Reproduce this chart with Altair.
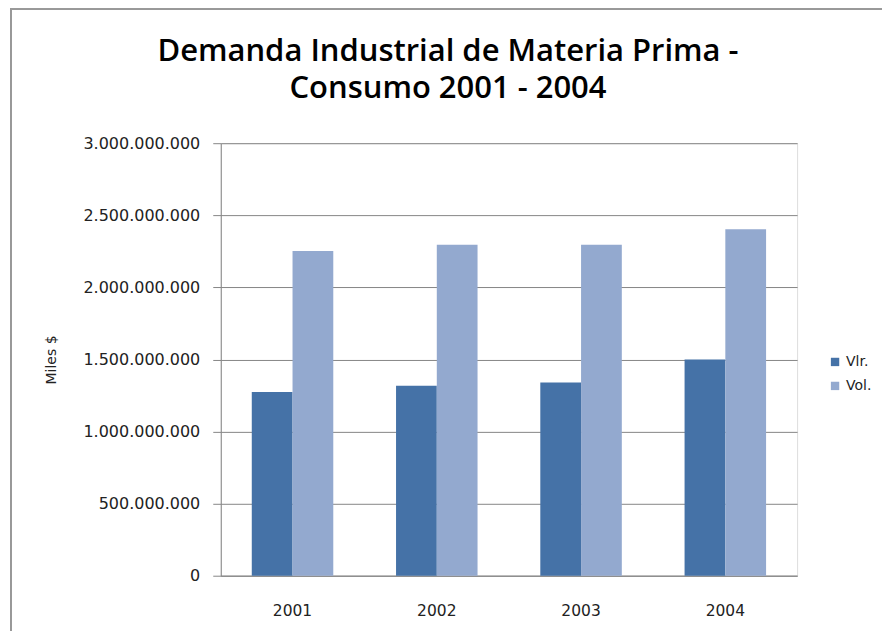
import altair as alt
import pandas as pd

years = ["2001", "2002", "2003", "2004"]
vlr = [1275000000, 1318000000, 1340000000, 1500000000]
vol = [2252000000, 2295000000, 2295000000, 2404000000]
series = ["Vlr.", "Vol."]
colors = ["#4572A7", "#93A9CF"]

rows = []
for i, y in enumerate(years):
    rows.append({"year": y, "serie": "Vlr.", "value": vlr[i]})
    rows.append({"year": y, "serie": "Vol.", "value": vol[i]})
df = pd.DataFrame(rows)

FONT = "DejaVu Sans"

bars = alt.Chart(df).mark_bar().encode(
    x=alt.X("year:N", title=None,
            scale=alt.Scale(paddingInner=0.435, paddingOuter=0.215),
            axis=alt.Axis(labelAngle=0, ticks=False, domain=True, domainColor="#868686",
                          labelFont=FONT, labelFontSize=15.5, labelColor="#222222",
                          labelPadding=28)),
    xOffset=alt.XOffset("serie:N", sort=series),
    y=alt.Y("value:Q", title="Miles $",
            scale=alt.Scale(domain=[0, 3000000000], nice=False),
            axis=alt.Axis(values=[0, 500000000, 1000000000, 1500000000, 2000000000, 2500000000, 3000000000],
                          format=",d", labelExpr="replace(datum.label, /,/g, '.')",
                          grid=True, gridColor="#868686", gridWidth=1,
                          tickColor="#868686", tickSize=8, domainColor="#868686",
                          labelFont=FONT, labelFontSize=16, labelColor="#222222",
                          labelPadding=13,
                          titleFont=FONT, titleFontSize=14, titleFontWeight="normal",
                          titleColor="#222222", titlePadding=24)),
    color=alt.Color("serie:N", sort=series,
                    scale=alt.Scale(domain=series, range=colors),
                    legend=alt.Legend(title=None, orient="none", legendX=608, legendY=212,
                                      symbolType="square", symbolSize=70, symbolStrokeWidth=0,
                                      labelFont=FONT, labelFontSize=14, labelColor="#222222",
                                      rowPadding=10, labelOffset=4)),
)

border = alt.Chart(df).mark_rect(fill=None, stroke="#999999", strokeWidth=1.5, clip=False).encode(
    x=alt.value(-210), x2=alt.value(900), y=alt.value(-134), y2=alt.value(700)
)

chart = alt.layer(bars, border).properties(
    width=577, height=433,
    title=alt.Title(["Demanda Industrial de Materia Prima -", "Consumo 2001 - 2004"],
                    font="Open Sans", fontSize=31, fontWeight=600, color="#000000",
                    anchor="middle", dx=-61, offset=0, dy=97, lineHeight=38),
    padding={"left": 213, "top": 135, "right": 85, "bottom": 55},
    autosize=alt.AutoSizeParams(type="none"),
).configure_view(stroke=None).configure(background="white")

chart.save("out.html", embed_options={"renderer": "svg", "actions": False})
